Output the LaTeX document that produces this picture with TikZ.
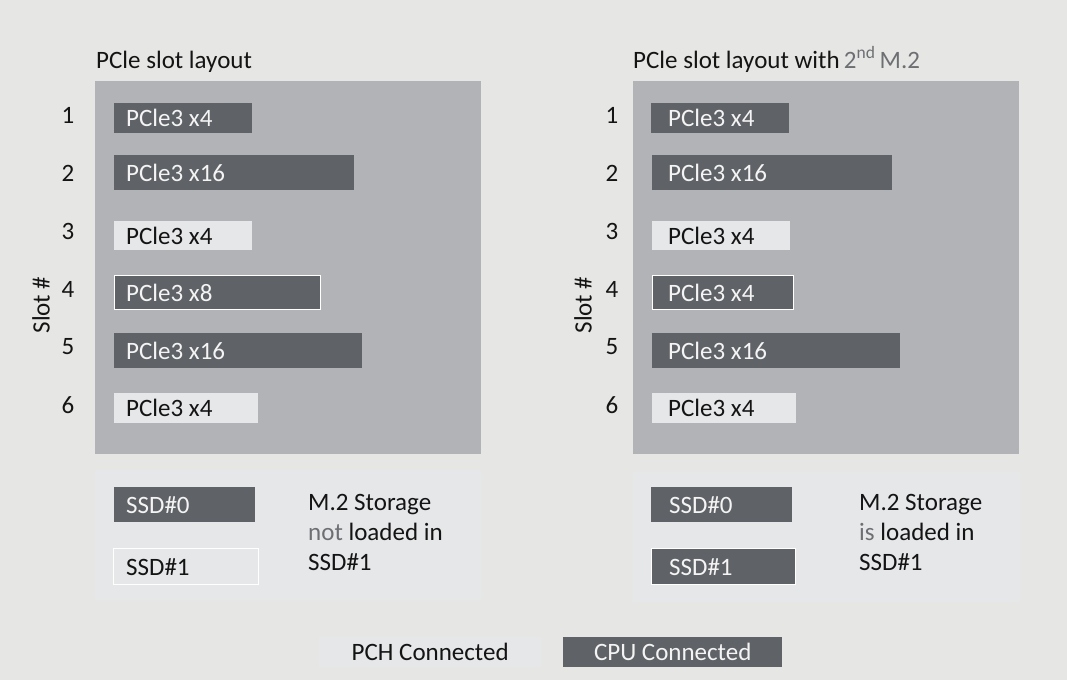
\documentclass[tikz,border=0pt]{standalone}
\usepackage{fontspec}
\setmainfont{Carlito}
\definecolor{bg}{HTML}{E6E6E4}
\definecolor{panel}{HTML}{B1B3B6}
\definecolor{darkfill}{HTML}{5F6266}
\definecolor{lightfill}{HTML}{E6E7E9}
\definecolor{greytext}{HTML}{6D6F73}
\definecolor{ink}{HTML}{141414}
\definecolor{paper}{HTML}{F4F4F4}
\tikzset{
  txt/.style={font=\fontsize{25}{30}\selectfont, inner sep=0pt, text=ink},
  wtxt/.style={txt, text=paper},
  panelbox/.style={fill=panel, draw=none, anchor=north west, inner sep=0pt},
  storebox/.style={fill=lightfill, draw=none, anchor=north west, inner sep=0pt},
  darkbar/.style={fill=darkfill, draw=none, anchor=north west, inner sep=0pt},
  lightbar/.style={fill=lightfill, draw=none, anchor=north west, inner sep=0pt},
  framed/.style={draw=white, line width=1.3pt},
}
\begin{document}
\begin{tikzpicture}[x=1pt,y=-1pt]
\useasboundingbox (0,0) rectangle (1067,680);
\fill[bg] (0,0) rectangle (1067,680);

% ---------- titles ----------
\node[txt, anchor=base west] (titleL) at (96,68) {PCle slot layout};
\node[txt, anchor=base west] (titleR) at (633,68) {PCle slot layout with\,{\color{greytext}2\textsuperscript{nd}\,M.2}};

% ---------- panels ----------
\node[panelbox, minimum width=386pt, minimum height=373pt] (panelL) at (95,81) {};
\node[panelbox, minimum width=386pt, minimum height=373pt] (panelR) at (633,81) {};
\node[storebox, minimum width=386pt, minimum height=130pt] (storeL) at (95,470) {};
\node[storebox, minimum width=387pt, minimum height=130pt] (storeR) at (633,472) {};

% ---------- slot numbers ----------
\foreach \n/\y in {1/115,2/173,3/231,4/289,5/347,6/405}{
  \node[txt] (numL\n) at (68,\y) {\n};
  \node[txt] (numR\n) at (612,\y) {\n};
}
\node[txt, rotate=90] (slotL) at (41,305) {Slot \#};
\node[txt, rotate=90] (slotR) at (583,305) {Slot \#};

% ---------- left slots ----------
\node[darkbar, minimum width=138pt, minimum height=30pt] (L1) at (114,103) {};
\node[wtxt, anchor=west] (L1t) at ([xshift=12pt]L1.west) {PCle3 x4};
\node[darkbar, minimum width=240pt, minimum height=35pt] (L2) at (114,155) {};
\node[wtxt, anchor=west] (L2t) at ([xshift=12pt]L2.west) {PCle3 x16};
\node[lightbar, minimum width=138pt, minimum height=29pt] (L3) at (114,221) {};
\node[txt, anchor=west] (L3t) at ([xshift=12pt]L3.west) {PCle3 x4};
\node[darkbar, framed, minimum width=206pt, minimum height=34pt] (L4) at (114,275) {};
\node[wtxt, anchor=west] (L4t) at ([xshift=12pt]L4.west) {PCle3 x8};
\node[darkbar, minimum width=248pt, minimum height=35pt] (L5) at (114,333) {};
\node[wtxt, anchor=west] (L5t) at ([xshift=12pt]L5.west) {PCle3 x16};
\node[lightbar, minimum width=144pt, minimum height=30pt] (L6) at (114,393) {};
\node[txt, anchor=west] (L6t) at ([xshift=12pt]L6.west) {PCle3 x4};

% ---------- right slots ----------
\node[darkbar, minimum width=138pt, minimum height=30pt] (R1) at (651,103) {};
\node[wtxt, anchor=west] (R1t) at ([xshift=17pt]R1.west) {PCle3 x4};
\node[darkbar, minimum width=240pt, minimum height=35pt] (R2) at (652,155) {};
\node[wtxt, anchor=west] (R2t) at ([xshift=16pt]R2.west) {PCle3 x16};
\node[lightbar, minimum width=138pt, minimum height=29pt] (R3) at (652,221) {};
\node[txt, anchor=west] (R3t) at ([xshift=16pt]R3.west) {PCle3 x4};
\node[darkbar, framed, minimum width=141pt, minimum height=34pt] (R4) at (652,275) {};
\node[wtxt, anchor=west] (R4t) at ([xshift=16pt]R4.west) {PCle3 x4};
\node[darkbar, minimum width=248pt, minimum height=35pt] (R5) at (652,333) {};
\node[wtxt, anchor=west] (R5t) at ([xshift=16pt]R5.west) {PCle3 x16};
\node[lightbar, minimum width=144pt, minimum height=30pt] (R6) at (652,393) {};
\node[txt, anchor=west] (R6t) at ([xshift=16pt]R6.west) {PCle3 x4};

% ---------- storage ----------
\node[darkbar, minimum width=141pt, minimum height=35pt] (SL0) at (114,487) {};
\node[wtxt, anchor=west] (SL0t) at ([xshift=12pt]SL0.west) {SSD\#0};
\node[lightbar, framed, minimum width=145pt, minimum height=36pt] (SL1) at (113,548) {};
\node[txt, anchor=west] (SL1t) at ([xshift=13pt]SL1.west) {SSD\#1};
\node[txt, anchor=base west] (ML1) at (308,510) {M.2 Storage};
\node[txt, anchor=base west] (ML2) at (308,540) {{\color{greytext}not} loaded in};
\node[txt, anchor=base west] (ML3) at (308,570) {SSD\#1};

\node[darkbar, minimum width=141pt, minimum height=35pt] (SR0) at (651,487) {};
\node[wtxt, anchor=west] (SR0t) at ([xshift=18pt]SR0.west) {SSD\#0};
\node[darkbar, framed, minimum width=144pt, minimum height=36pt] (SR1) at (651,548) {};
\node[wtxt, anchor=west] (SR1t) at ([xshift=18pt]SR1.west) {SSD\#1};
\node[txt, anchor=base west] (MR1) at (859,510) {M.2 Storage};
\node[txt, anchor=base west] (MR2) at (859,540) {{\color{greytext}is} loaded in};
\node[txt, anchor=base west] (MR3) at (859,570) {SSD\#1};

% ---------- legend ----------
\node[lightbar, minimum width=222pt, minimum height=30pt] (pch) at (319,637) {};
\node[txt] (pcht) at (pch.center) {PCH Connected};
\node[darkbar, minimum width=219pt, minimum height=30pt] (cpu) at (563,637) {};
\node[wtxt] (cput) at (cpu.center) {CPU Connected};
\end{tikzpicture}
\end{document}
